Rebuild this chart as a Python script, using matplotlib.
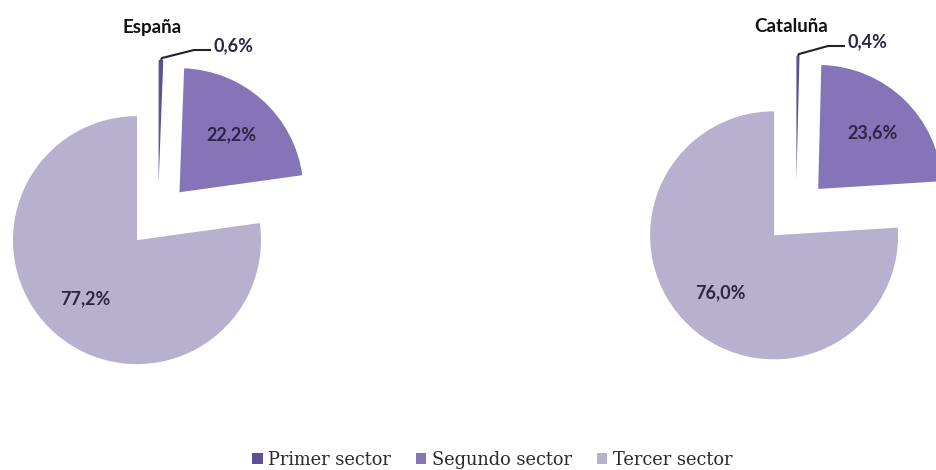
import numpy as np
import matplotlib.pyplot as plt

# share of employment by sector (%)
sectors = ["Primer sector", "Segundo sector", "Tercer sector"]
espana = [0.6, 22.2, 77.2]
cataluna = [0.4, 23.6, 76.0]
titles = ["España", "Cataluña"]

colors = ["#5e5091", "#8574b8", "#b7b0cf"]
label_color = "#2b2645"

W, H = 936, 470
fig = plt.figure(figsize=(W / 100, H / 100), dpi=100)
ax = fig.add_axes([0, 0, 1, 1])


def pct_label(p):
    if p < 1:
        return ""
    return f"{p:.1f}%".replace(".", ",")


def draw_pie(values, cx, cy, title, title_xy, small_label_xy):
    r = 124
    wedges, _, autotexts = ax.pie(
        values, colors=colors, startangle=90, counterclock=False,
        explode=[32] * len(values), radius=r, center=(cx, H - cy),
        autopct=pct_label, pctdistance=0.63, frame=True,
        wedgeprops=dict(linewidth=0))
    for t in autotexts:
        t.set(fontsize=13, fontfamily="Lato", fontweight="bold", color=label_color)

    # leader line for the tiny first-sector slice
    w = wedges[0]
    tm = np.deg2rad(0.5 * (w.theta1 + w.theta2))
    tip = (w.center[0] + r * np.cos(tm), w.center[1] + r * np.sin(tm))
    lx, ly = small_label_xy
    ax.plot([tip[0], tip[0] + 1, lx - 20, lx - 3],
            [tip[1], tip[1] + 2, H - ly - 4, H - ly - 4],
            color="#222222", lw=1.5, solid_capstyle="butt")
    ax.text(lx, H - ly, f"{values[0]:.1f}%".replace(".", ","),
            fontsize=13, fontfamily="Lato", fontweight="bold",
            color=label_color, ha="left", va="center")

    ax.text(title_xy[0], H - title_xy[1], title, fontsize=13.5, fontfamily="Lato",
            fontweight="bold", color="#111111", ha="center", va="center")
    return wedges


wedges = draw_pie(espana, 158, 216, titles[0], (152, 27), (214, 46))
draw_pie(cataluna, 796, 212, titles[1], (791, 26), (848, 42))

ax.set_xlim(0, W)
ax.set_ylim(0, H)
ax.set_aspect("equal")
ax.axis("off")

fig.legend(wedges, sectors, loc="center", bbox_to_anchor=(492 / W, 1 - 460 / H),
           ncol=3, frameon=False, handlelength=0.6, handleheight=0.6,
           handletextpad=0.3, columnspacing=1.4, borderpad=0,
           labelcolor="#2a2a2a",
           prop=dict(family="DejaVu Serif", size=12.8))

fig.savefig("out.png", dpi=100)
